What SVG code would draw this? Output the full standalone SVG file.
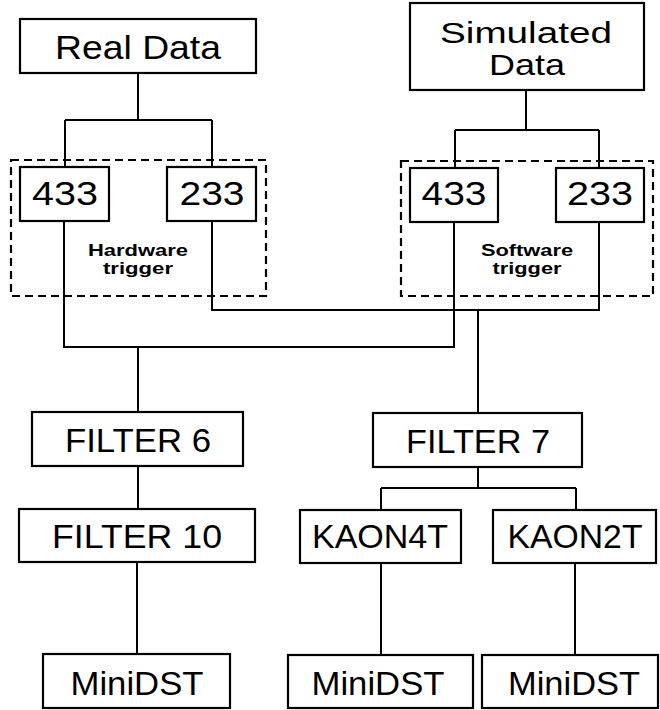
<svg xmlns="http://www.w3.org/2000/svg" width="660" height="710" viewBox="0 0 660 710">
<style>
.box{fill:#fff;stroke:#000;stroke-width:2.2}
.dash{fill:none;stroke:#000;stroke-width:2.2;stroke-dasharray:8 5}
.big{font-family:"Liberation Sans",Arial,sans-serif;font-size:34px;fill:#000;text-anchor:middle}
.sim{font-size:30px}
.small{font-family:"Liberation Sans",Arial,sans-serif;font-size:17px;font-weight:bold;fill:#000;text-anchor:middle}
#connectors path{fill:none;stroke:#000;stroke-width:2}
</style>
<rect width="660" height="710" fill="#fff"/>
<g id="connectors">
<path d="M138,73 V120 M65,120 H212 M65,120 V167 M212,120 V167"/>
<path d="M526,90 V130 M455,130 H599 M455,130 V168 M599,130 V168"/>
<path d="M64,221 V347 H454 V222"/>
<path d="M212,221 V310 H599 V222"/>
<path d="M138,347 V412"/>
<path d="M478,310 V413"/>
<path d="M138,466 V509"/>
<path d="M478,467 V488 M381,488 H576 M381,488 V510 M576,488 V510"/>
<path d="M137,562 V654"/>
<path d="M381,563 V654 M575,563 V654"/>
</g>
<g id="hardware-trigger">
<rect class="dash" x="11" y="160" width="255" height="136"/>
<text class="small" x="138" y="256" textLength="100" lengthAdjust="spacingAndGlyphs">Hardware</text>
<text class="small" x="138" y="274" textLength="70" lengthAdjust="spacingAndGlyphs">trigger</text>
</g>
<g id="software-trigger">
<rect class="dash" x="401" y="161" width="252" height="135"/>
<text class="small" x="527" y="256" textLength="92" lengthAdjust="spacingAndGlyphs">Software</text>
<text class="small" x="527" y="274" textLength="69" lengthAdjust="spacingAndGlyphs">trigger</text>
</g>
<g id="real-data">
<rect class="box" x="20" y="19" width="236" height="54"/>
<text class="big" x="138" y="59" textLength="166" lengthAdjust="spacingAndGlyphs">Real Data</text>
</g>
<g id="simulated-data">
<rect class="box" x="410" y="3" width="234" height="87"/>
<text class="big sim" x="526" y="43" textLength="172" lengthAdjust="spacingAndGlyphs">Simulated</text>
<text class="big sim" x="527" y="75" textLength="76" lengthAdjust="spacingAndGlyphs">Data</text>
</g>
<g id="hw-433">
<rect class="box" x="20" y="167" width="89" height="54"/>
<text class="big" x="65" y="205" textLength="66" lengthAdjust="spacingAndGlyphs">433</text>
</g>
<g id="hw-233">
<rect class="box" x="167" y="167" width="89" height="54"/>
<text class="big" x="212" y="205" textLength="65" lengthAdjust="spacingAndGlyphs">233</text>
</g>
<g id="sw-433">
<rect class="box" x="410" y="168" width="88" height="54"/>
<text class="big" x="454" y="205" textLength="65" lengthAdjust="spacingAndGlyphs">433</text>
</g>
<g id="sw-233">
<rect class="box" x="556" y="168" width="88" height="54"/>
<text class="big" x="600" y="205" textLength="66" lengthAdjust="spacingAndGlyphs">233</text>
</g>
<g id="filter6">
<rect class="box" x="32" y="412" width="211" height="54"/>
<text class="big" x="138" y="452" textLength="146" lengthAdjust="spacingAndGlyphs">FILTER 6</text>
</g>
<g id="filter7">
<rect class="box" x="373" y="413" width="209" height="54"/>
<text class="big" x="478" y="453" textLength="144" lengthAdjust="spacingAndGlyphs">FILTER 7</text>
</g>
<g id="filter10">
<rect class="box" x="19" y="509" width="236" height="53"/>
<text class="big" x="137" y="548" textLength="170" lengthAdjust="spacingAndGlyphs">FILTER 10</text>
</g>
<g id="kaon4t">
<rect class="box" x="300" y="510" width="161" height="53"/>
<text class="big" x="380" y="548" textLength="136" lengthAdjust="spacingAndGlyphs">KAON4T</text>
</g>
<g id="kaon2t">
<rect class="box" x="493" y="510" width="163" height="53"/>
<text class="big" x="575" y="548" textLength="135" lengthAdjust="spacingAndGlyphs">KAON2T</text>
</g>
<g id="minidst-1">
<rect class="box" x="43" y="654" width="187" height="54"/>
<text class="big" x="137" y="695" textLength="133" lengthAdjust="spacingAndGlyphs">MiniDST</text>
</g>
<g id="minidst-2">
<rect class="box" x="288" y="655" width="185" height="53"/>
<text class="big" x="378" y="695" textLength="133" lengthAdjust="spacingAndGlyphs">MiniDST</text>
</g>
<g id="minidst-3">
<rect class="box" x="482" y="655" width="176" height="53"/>
<text class="big" x="574" y="695" textLength="132" lengthAdjust="spacingAndGlyphs">MiniDST</text>
</g>
</svg>
